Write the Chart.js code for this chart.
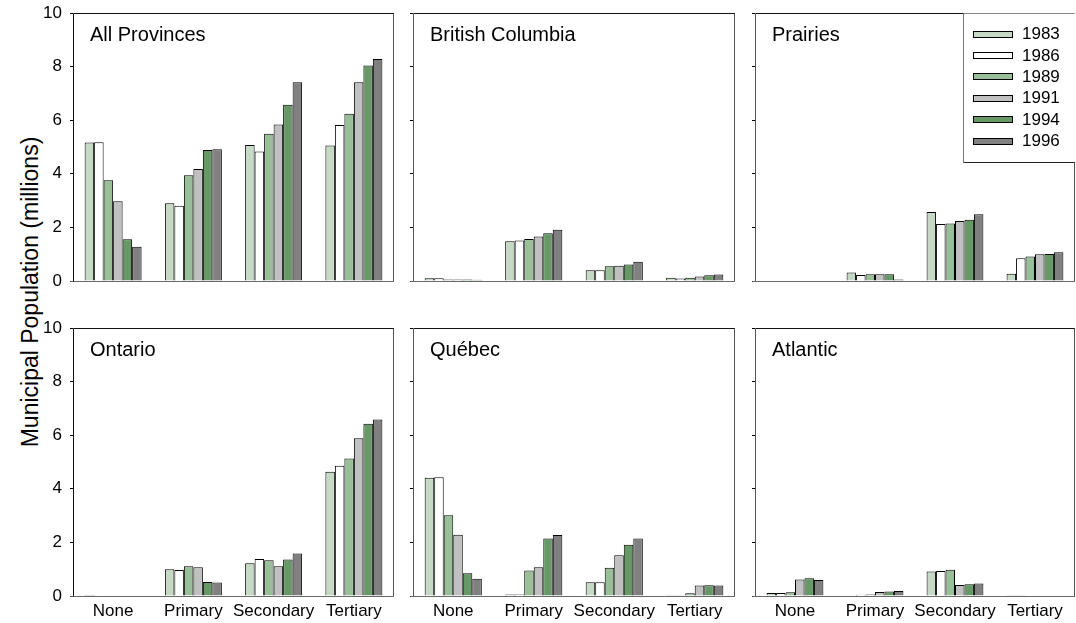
<!DOCTYPE html>
<html>
<head>
<meta charset="utf-8">
<script src="https://cdn.jsdelivr.net/npm/chart.js@4.4.1/dist/chart.umd.min.js"></script>
<style>
  html, body { margin: 0; padding: 0; background: #fff; }
  body { width: 1076px; height: 623px; position: relative; overflow: hidden; font-family: "Liberation Sans", Arial, sans-serif; }
  canvas { position: absolute; }
  #ytitle {
    position: absolute; left: 30px; top: 292px;
    transform: translate(-50%, -50%) rotate(-90deg);
    white-space: nowrap; font-size: 23px; color: #000;
  }
</style>
</head>
<body>
<div id="ytitle">Municipal Population (millions)</div>
<script>
// Education level of each municipality group
const categories = ['None', 'Primary', 'Secondary', 'Tertiary'];
const years = ['1983', '1986', '1989', '1991', '1994', '1996'];
const yearColors = ['#c5d9c5', '#ffffff', '#99bf99', '#c0c0c0', '#669966', '#808080'];
const yTicks = [0, 2, 4, 6, 8, 10];

// Municipal population (millions), one row per year, one column per category
const allProvinces = [
  [5.17, 2.90, 5.07, 5.06],
  [5.18, 2.81, 4.83, 5.82],
  [3.76, 3.95, 5.49, 6.24],
  [2.98, 4.18, 5.84, 7.42],
  [1.56, 4.89, 6.58, 8.04],
  [1.28, 4.92, 7.42, 8.28]
];
const britishColumbia = [
  [0.10, 1.48, 0.40, 0.12],
  [0.10, 1.51, 0.40, 0.09],
  [0.06, 1.57, 0.55, 0.12],
  [0.06, 1.66, 0.57, 0.17],
  [0.06, 1.78, 0.62, 0.21],
  [0.05, 1.91, 0.72, 0.24]
];
const prairies = [
  [0, 0.32, 2.57, 0.27],
  [0, 0.22, 2.13, 0.85],
  [0, 0.25, 2.15, 0.91],
  [0, 0.25, 2.24, 1.00],
  [0, 0.25, 2.29, 1.01],
  [0, 0.06, 2.49, 1.07]
];
const ontario = [
  [0.04, 1.00, 1.22, 4.64],
  [0.03, 0.97, 1.38, 4.86],
  [0, 1.11, 1.33, 5.13],
  [0, 1.07, 1.11, 5.89],
  [0, 0.52, 1.36, 6.43],
  [0, 0.50, 1.59, 6.59]
];
const quebec = [
  [4.41, 0.06, 0.51, 0.01],
  [4.43, 0.06, 0.51, 0.01],
  [3.01, 0.95, 1.05, 0.10],
  [2.29, 1.07, 1.52, 0.39],
  [0.85, 2.15, 1.91, 0.40],
  [0.64, 2.28, 2.15, 0.39]
];
const atlantic = [
  [0.11, 0.02, 0.91, 0.01],
  [0.11, 0.05, 0.93, 0.01],
  [0.14, 0.06, 0.98, 0],
  [0.62, 0.15, 0.41, 0],
  [0.66, 0.17, 0.44, 0],
  [0.60, 0.19, 0.47, 0]
];

const FONT = '"Liberation Sans", Arial, sans-serif';

// Panel grid: plot-area boxes in page pixels
const colBoxes = [ {left: 73, width: 321}, {left: 413, width: 322}, {left: 755, width: 320} ];
const rowBoxes = [ {top: 13, height: 268}, {top: 328, height: 268} ];

const panels = [
  {title: 'All Provinces', values: allProvinces, row: 0, col: 0},
  {title: 'British Columbia', values: britishColumbia, row: 0, col: 1},
  {title: 'Prairies', values: prairies, row: 0, col: 2, legend: true},
  {title: 'Ontario', values: ontario, row: 1, col: 0},
  {title: 'Québec', values: quebec, row: 1, col: 1},
  {title: 'Atlantic', values: atlantic, row: 1, col: 2}
];

// Frame, panel title and (optionally) the year legend
const panelDecor = {
  id: 'panelDecor',
  afterDatasetsDraw(chart, args, opts) {
    const {ctx, chartArea: a} = chart;
    const L = Math.round(a.left) + 0.5, R = Math.round(a.right) - 0.5;
    const T = Math.round(a.top) + 0.5, B = Math.round(a.bottom) + 0.5;
    ctx.save();
    ctx.lineWidth = 1;
    const seg = (x1, y1, x2, y2, c) => { ctx.strokeStyle = c; ctx.beginPath(); ctx.moveTo(x1, y1); ctx.lineTo(x2, y2); ctx.stroke(); };
    seg(L, T, R + 0.5, T, '#111');
    seg(R, T, R, B, '#555');
    seg(L - 3, B, R + 0.5, B, '#6a6a6a');
    seg(L, T, L, B, opts.leftColor || '#111');

    ctx.fillStyle = '#000';
    ctx.font = '20px ' + FONT;
    ctx.textAlign = 'left';
    ctx.textBaseline = 'alphabetic';
    ctx.fillText(opts.title, a.left + 17, a.top + 27.5);

    if (opts.legend) {
      const bx = Math.round(a.right) - 112 + 0.5, by = T, bb = Math.round(a.top) + 149 + 0.5;
      ctx.fillStyle = '#fff';
      ctx.fillRect(bx, by, a.right - bx, bb - by);
      seg(bx, by, bx, bb, '#777');
      seg(bx, bb, a.right, bb, '#222');
      ctx.font = '17px ' + FONT;
      ctx.textBaseline = 'middle';
      chart.data.datasets.forEach((ds, i) => {
        const cy = a.top + 21 + i * 21.4;
        ctx.fillStyle = ds.backgroundColor;
        ctx.fillRect(bx + 10, Math.round(cy - 3.5), 39, 7);
        ctx.strokeStyle = '#000';
        ctx.strokeRect(bx + 10, Math.round(cy - 3.5) + 0.5, 39, 6);
        ctx.fillStyle = '#000';
        ctx.fillText(ds.label, bx + 58.5, cy + 0.5);
      });
    }
    ctx.restore();
  }
};

panels.forEach(p => {
  const cb = colBoxes[p.col], rb = rowBoxes[p.row];
  const padL = p.col === 0 ? 40 : 12;
  const padT = 10;
  const padR = 1;
  const padB = p.row === 1 ? 27 : 10;
  const canvas = document.createElement('canvas');
  canvas.width = padL + cb.width + padR;
  canvas.height = padT + rb.height + padB;
  canvas.style.left = (cb.left - padL) + 'px';
  canvas.style.top = (rb.top - padT) + 'px';
  canvas.style.width = canvas.width + 'px';
  canvas.style.height = canvas.height + 'px';
  document.body.appendChild(canvas);

  new Chart(canvas.getContext('2d'), {
    type: 'bar',
    data: {
      labels: categories,
      datasets: years.map((yr, i) => ({
        label: yr,
        data: p.values[i],
        backgroundColor: yearColors[i],
        borderColor: '#000',
        borderWidth: 1,
        categoryPercentage: 0.71,
        barPercentage: 1.0
      }))
    },
    options: {
      responsive: false,
      animation: false,
      devicePixelRatio: 1,
      layout: { padding: { top: padT, right: padR, left: 0, bottom: 0 } },
      plugins: {
        legend: { display: false },
        tooltip: { enabled: false },
        title: { display: false },
        panelDecor: { title: p.title, legend: !!p.legend, leftColor: p.col === 0 ? '#111' : '#555' }
      },
      scales: {
        x: {
          type: 'category',
          offset: true,
          grid: { display: false, drawTicks: false },
          border: { display: false },
          ticks: { display: p.row === 1, color: '#000', padding: 5, font: { family: FONT, size: 17 }, maxRotation: 0, autoSkip: false },
          afterFit: s => { s.height = padB; s.paddingLeft = 0; s.paddingRight = 0; }
        },
        y: {
          min: 0, max: 10,
          afterBuildTicks: s => { s.ticks = yTicks.map(v => ({value: v})); },
          grid: { display: true, drawOnChartArea: false, drawTicks: true, tickLength: 3, color: '#000', lineWidth: 1 },
          border: { display: false },
          ticks: { display: p.col === 0, color: '#000', padding: 8, font: { family: FONT, size: 17 } },
          afterFit: s => { s.width = padL; s.paddingTop = 0; s.paddingBottom = 0; }
        }
      }
    },
    plugins: [panelDecor]
  });
});
</script>
</body>
</html>
